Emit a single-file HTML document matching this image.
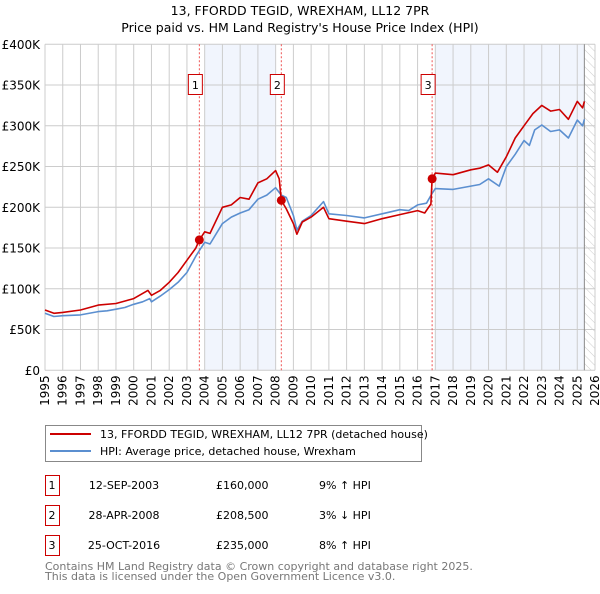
<!DOCTYPE html>
<html><head><meta charset="utf-8"><style>
body{margin:0;background:#fff;font-family:"DejaVu Sans","Liberation Sans",sans-serif;}
svg text{font-family:"DejaVu Sans","Liberation Sans",sans-serif;}
</style></head><body>
<svg id="chart" width="600" height="590" viewBox="0 0 600 590" xmlns="http://www.w3.org/2000/svg">
<defs>
<pattern id="hatch" width="6" height="6" patternUnits="userSpaceOnUse" patternTransform="rotate(-45)">
<line x1="0" y1="0" x2="0" y2="6" stroke="#ccc" stroke-width="1"/></pattern>
</defs>
<text x="300" y="15" text-anchor="middle" font-size="12.5">13, FFORDD TEGID, WREXHAM, LL12 7PR</text>
<text x="300" y="32" text-anchor="middle" font-size="12.5">Price paid vs. HM Land Registry's House Price Index (HPI)</text>
<g id="plot"></g>
<g>
<rect x="45.5" y="425.5" width="376" height="36" fill="#fff" stroke="#888"/>
<line x1="50" y1="434" x2="91" y2="434" stroke="#cc0000" stroke-width="2"/>
<text x="100" y="438" font-size="11">13, FFORDD TEGID, WREXHAM, LL12 7PR (detached house)</text>
<line x1="50" y1="451" x2="91" y2="451" stroke="#5b8fd0" stroke-width="2"/>
<text x="100" y="455" font-size="11">HPI: Average price, detached house, Wrexham</text>
</g>
<g id="table" font-size="11"></g>
<text x="45" y="570" font-size="11" fill="#777">Contains HM Land Registry data © Crown copyright and database right 2025.</text>
<text x="45" y="580" font-size="11" fill="#777">This data is licensed under the Open Government Licence v3.0.</text>
</svg>
<script>
const hpiYears=[1995,1995.5,1996,1997,1998,1998.5,1999,1999.5,2000,2000.5,2000.9,2001,2001.5,2002,2002.5,2003,2003.5,2003.7,2004,2004.3,2005,2005.5,2006,2006.5,2007,2007.5,2008,2008.32,2008.6,2009,2009.2,2009.5,2010,2010.7,2011,2012,2013,2014,2015,2015.5,2016,2016.5,2016.82,2017,2018,2019,2019.5,2020,2020.6,2021,2021.5,2022,2022.3,2022.6,2023,2023.5,2024,2024.5,2025,2025.3,2025.4];
const hpiValues=[70,66,67,68,72,73,75,77,81,84,88,84,91,99,108,120,140,147,157,155,180,188,193,197,210,215,224,215,212,190,172,183,190,207,192,190,187,192,197,196,203,205,217,223,222,226,228,235,226,250,265,282,276,295,301,293,295,285,307,300,308];
const redYears=[1995,1995.5,1996,1997,1998,1999,2000,2000.8,2001,2001.5,2002,2002.5,2003,2003.5,2003.7,2004,2004.3,2005,2005.5,2006,2006.5,2007,2007.5,2008,2008.2,2008.32,2008.6,2009,2009.2,2009.5,2010,2010.7,2011,2012,2013,2014,2015,2016,2016.4,2016.75,2016.82,2017,2018,2019,2019.5,2020,2020.5,2021,2021.5,2022,2022.5,2023,2023.5,2024,2024.5,2025,2025.3,2025.4];
const redValues=[74,70,71,74,80,82,88,98,92,98,108,120,135,150,160,170,168,200,203,212,210,230,235,245,235,208.5,198,180,167,182,188,200,186,183,180,186,191,196,193,204,235,242,240,246,248,252,243,262,285,300,315,325,318,320,308,330,322,330];
const saleYears=[2003.7,2008.32,2016.82];
const saleValues=[160,208.5,235];
const saleLabels=["1","2","3"];
const saleDates=["12-SEP-2003","28-APR-2008","25-OCT-2016"];
const salePrices=["£160,000","£208,500","£235,000"];
const saleHpi=["9% \u2191 HPI","3% \u2193 HPI","8% \u2191 HPI"];
const yTicks=[0,50,100,150,200,250,300,350,400];
const yTickLabels=["£0","£50K","£100K","£150K","£200K","£250K","£300K","£350K","£400K"];
const shadeRanges=[[2004,2008],[2017,2025.4]];

const X0=45,X1=595,Y0=370.3,Y1=44.3,yr0=1995,yr1=2026;
const xs=y=>X0+(y-yr0)/(yr1-yr0)*(X1-X0);
const ys=v=>Y0-v/400*(Y0-Y1);
const NS="http://www.w3.org/2000/svg";
const plot=document.getElementById('plot');
function mk(tag,attrs,parent){const e=document.createElementNS(NS,tag);for(const k in attrs)e.setAttribute(k,attrs[k]);(parent||plot).appendChild(e);return e;}
shadeRanges.forEach(r=>{
const e=mk('rect',{x:xs(r[0]),y:Y1,width:xs(r[1])-xs(r[0]),height:Y0-Y1,fill:'#eef3fc',opacity:0.8});


});
const h=mk('rect',{x:xs(2025.4),y:Y1,width:X1-xs(2025.4),height:Y0-Y1,fill:'url(#hatch)'});


for(let y=yr0;y<=yr1;y++){
const l=mk('line',{x1:xs(y),x2:xs(y),y1:Y1,y2:Y0,stroke:'#ccc','stroke-width':1});


const t=mk('text',{x:0,y:0,'font-size':12,'text-anchor':'end',transform:`translate(${xs(y)+4},${Y0+5}) rotate(-90)`});
t.textContent=y;


}
yTicks.forEach((v,i)=>{
const l=mk('line',{x1:X0,x2:X1,y1:ys(v),y2:ys(v),stroke:'#ccc','stroke-width':1});


const t=mk('text',{x:40,y:ys(v)+4.5,'font-size':12,'text-anchor':'end'});
t.textContent=yTickLabels[i];


});
mk('line',{x1:xs(2025.4),x2:xs(2025.4),y1:Y1,y2:Y0,stroke:'#888','stroke-width':1});
saleYears.forEach((y,i)=>{
const l=mk('line',{x1:xs(y),x2:xs(y),y1:Y1,y2:Y0,stroke:'#ee5555','stroke-width':1,'stroke-dasharray':'2,2'});


const g=mk('g',{});


mk('rect',{x:xs(y)-11,y:74.5,width:14,height:20,fill:'#fff',stroke:'#cc0000'},g);
const t=mk('text',{x:xs(y)-4,y:89,'font-size':11,'text-anchor':'middle'},g);
t.textContent=saleLabels[i];
});
function path(xsA,vs,col,name){
const d=xsA.map((y,i)=>(i?'L':'M')+xs(y).toFixed(1)+','+ys(vs[i]).toFixed(1)).join('');
const p=mk('path',{d:d,fill:'none',stroke:col,'stroke-width':1.6,'stroke-linejoin':'round'});


}
path(hpiYears,hpiValues,'#5b8fd0','hpi-line');
path(redYears,redValues,'#cc0000','price-paid-line');
saleYears.forEach((y,i)=>{
const c=mk('circle',{cx:xs(y),cy:ys(saleValues[i]),r:4.5,fill:'#cc0000'});


});
const tb=document.getElementById('table');
saleLabels.forEach((s,i)=>{
const y0=475+i*30;
const g=mk('g',{},tb);


mk('rect',{x:45.5,y:y0+0.5,width:14,height:20,fill:'#fff',stroke:'#cc0000'},g);
const cells=[[52,s,'middle'],[124,saleDates[i],'middle'],[216,salePrices[i],'start'],[319,saleHpi[i],'start']];
cells.forEach(c=>{const t=mk('text',{x:c[0],y:y0+14,'font-size':11,'text-anchor':c[2]},g);t.textContent=c[1];});
});
</script>
</body></html>
